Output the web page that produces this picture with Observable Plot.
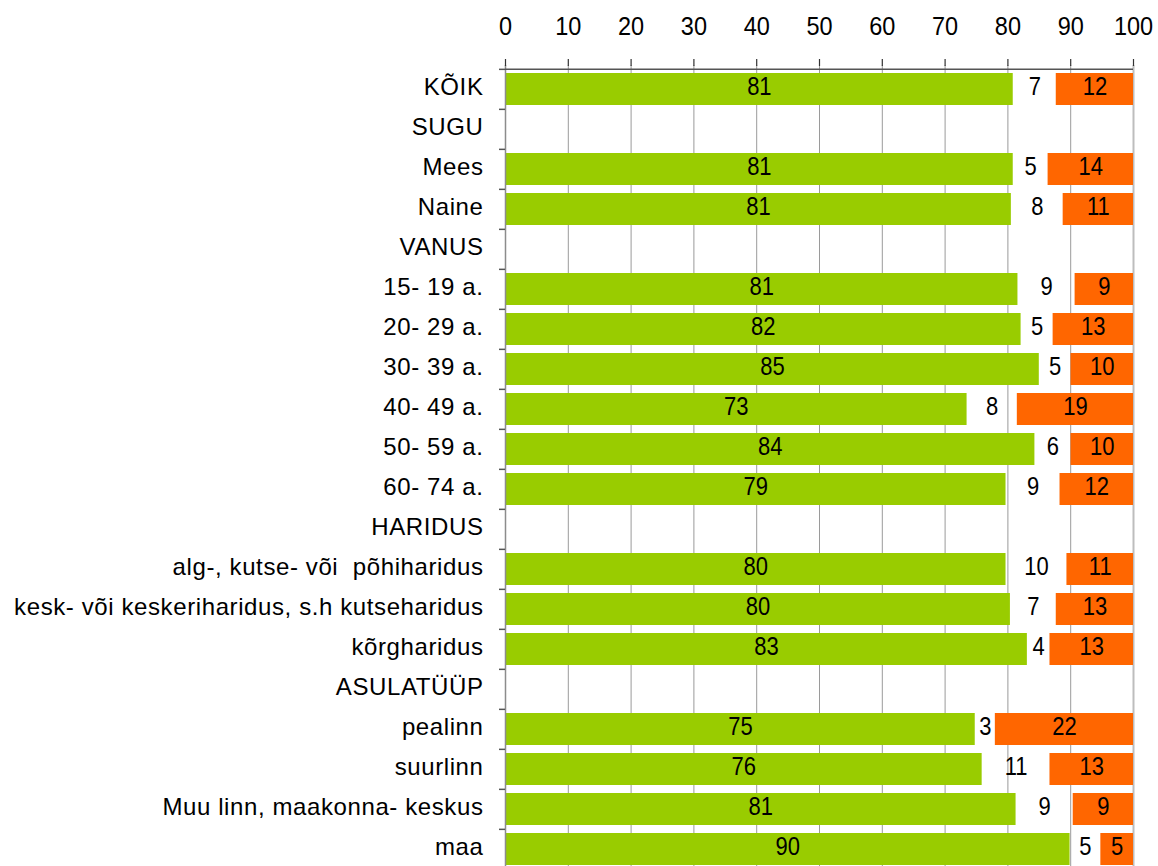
<!DOCTYPE html>
<html>
<head>
<meta charset="utf-8">
<script src="https://cdn.jsdelivr.net/npm/d3@7"></script>
<script src="https://cdn.jsdelivr.net/npm/@observablehq/plot@0.6"></script>
<style>
  html, body { margin: 0; padding: 0; background: #fff; }
  svg text { white-space: pre; }
</style>
</head>
<body>
<div id="chart"></div>
<script>
const categories = ["KÕIK","SUGU","Mees","Naine","VANUS","15- 19 a.","20- 29 a.","30- 39 a.","40- 49 a.","50- 59 a.","60- 74 a.","HARIDUS","alg-, kutse- või  põhiharidus","kesk- või keskeriharidus, s.h kutseharidus","kõrgharidus","ASULATÜÜP","pealinn","suurlinn","Muu linn, maakonna- keskus","maa"];
// bar lengths (as drawn)
const greenShare  = [80.85,null,80.85,80.55,null,81.6,82.1,85.0,73.5,84.3,79.7,null,79.7,80.4,83.1,null,74.8,75.9,81.3,89.9];
const orangeShare = [12.3,null,13.6,11.2,null,9.3,12.8,9.95,18.5,9.95,11.7,null,10.6,12.3,13.3,null,22.0,13.3,9.6,5.2];
// printed labels
const greenLabel  = [81,null,81,81,null,81,82,85,73,84,79,null,80,80,83,null,75,76,81,90];
const gapLabel    = [7,null,5,8,null,9,5,5,8,6,9,null,10,7,4,null,3,11,9,5];
const orangeLabel = [12,null,14,11,null,9,13,10,19,10,12,null,11,13,13,null,22,13,9,5];
const xTicks = [0,10,20,30,40,50,60,70,80,90,100];

const rows = categories.map((c, i) => ({
  cat: c, g: greenShare[i], o: orangeShare[i],
  gl: greenLabel[i], ml: gapLabel[i], ol: orangeLabel[i]
}));
const bars = rows.filter(d => d.g != null);

const numFont = "'Liberation Sans', Arial, sans-serif";
const yRange = [65.5, 871.5];
const step = (yRange[1] - yRange[0]) / categories.length;
const axisMarks = typeof Plot.axisX === "function";

const marks = [
  Plot.ruleX(xTicks.filter(t => t > 0 && t < 100), {stroke: "#9a9a9a", strokeWidth: 1}),
  Plot.ruleX([100], {stroke: "#bdbdbd", strokeWidth: 2}),
  Plot.barX(bars, {y: "cat", x1: 0, x2: "g", fill: "#99cc00"}),
  Plot.barX(bars, {y: "cat", x1: d => 100 - d.o, x2: 100, fill: "#ff6600"}),
  Plot.ruleX([0], {stroke: "#8c8c8c", strokeWidth: 1.5}),
  Plot.ruleY([categories[0]], {x1: 0, x2: 100, dy: -step / 2, stroke: "#555", strokeWidth: 1.5}),
  Plot.ruleY(categories, {x1: 0, x2: 0, insetLeft: -6, dy: -step / 2, stroke: "#555", strokeWidth: 1.5}),
  Plot.text(bars, {y: "cat", x: d => d.g / 2, text: d => String(d.gl), fontSize: 22, fontFamily: numFont, fill: "#000", dy: -3, className: "numlab"}),
  Plot.text(bars, {y: "cat", x: d => (d.g + 100 - d.o) / 2, text: d => String(d.ml), fontSize: 22, fontFamily: numFont, fill: "#000", dy: -3, className: "numlab"}),
  Plot.text(bars, {y: "cat", x: d => 100 - d.o / 2, text: d => String(d.ol), fontSize: 22, fontFamily: numFont, fill: "#000", dy: -3, className: "numlab"})
];
if (axisMarks) {
  marks.push(
    Plot.axisX(xTicks, {anchor: "top", tickSize: 7, tickPadding: 24, stroke: "#333", strokeWidth: 1.2, fontSize: 23.5, fill: "#000", tickFormat: d => String(d), label: null}),
    Plot.axisY(categories, {anchor: "left", tickSize: 0, tickPadding: 22, fontSize: 24, fill: "#000", dy: -2, label: null})
  );
}

const chart = Plot.plot({
  width: 1158,
  height: 866,
  marginLeft: 505,
  marginRight: 25,
  marginTop: 65,
  marginBottom: 0,
  style: {fontFamily: "'Liberation Sans', Arial, sans-serif", fontSize: "24px", color: "#000", background: "#fff"},
  x: axisMarks
    ? {domain: [0, 100], axis: null}
    : {domain: [0, 100], axis: "top", ticks: xTicks, tickSize: 7, tickPadding: 24, label: null, tickFormat: d => String(d)},
  y: axisMarks
    ? {domain: categories, range: yRange, paddingInner: 0.21, paddingOuter: 0.105, axis: null}
    : {domain: categories, range: yRange, paddingInner: 0.21, paddingOuter: 0.105, axis: "left", tickSize: 0, tickPadding: 22, label: null},
  marks
});
// category labels: slight letter spacing to match the reference width
chart.querySelectorAll("g[aria-label='y-axis tick label'] text").forEach(t => t.style.letterSpacing = "0.6px");
// numbers in the reference are drawn slightly taller than wide: stretch them vertically
function stretch(sel, k) {
  chart.querySelectorAll(sel).forEach(t => {
    const tr = t.getAttribute("transform") || "";
    t.setAttribute("transform", tr + ` scale(1,${k})`);
  });
}
stretch(".numlab text", 1.2);
stretch("g[aria-label='x-axis tick label'] text", 1.08);
document.getElementById("chart").appendChild(chart);
</script>
</body>
</html>
